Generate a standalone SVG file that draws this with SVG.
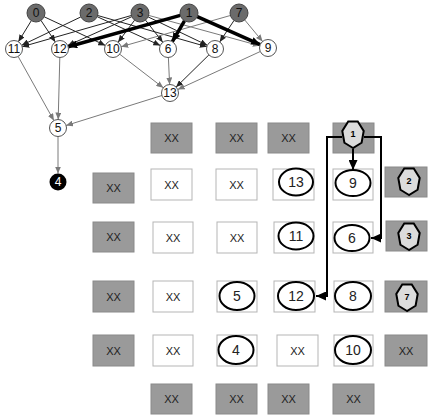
<svg xmlns="http://www.w3.org/2000/svg" width="428" height="415" viewBox="0 0 428 415">
<style>
text{font-family:"Liberation Sans",Arial,sans-serif;text-anchor:middle;dominant-baseline:central}
.top circle{fill:#6b6b6b;stroke:#444;stroke-width:1}
.wn circle{fill:#fff;stroke:#555;stroke-width:1}
.top text,.wn text{font-size:12px;fill:#111}
.e{fill:none;stroke:#222;stroke-width:1;marker-end:url(#ah)}
.eg{fill:none;stroke:#7a7a7a;stroke-width:1;marker-end:url(#ahg)}
.et{fill:none;stroke:#000;stroke-width:3.5;marker-end:url(#aht)}
.gb{fill:#9a9a9a;stroke:#8a8a8a;stroke-width:1}
.wb{fill:#fff;stroke:#b5b5b5;stroke-width:1}
.xx{font-size:11px;fill:#222}
.el{fill:#fff;stroke:#000;stroke-width:2}
.en{font-size:14px;fill:#222}
.hp{fill:#dcdcdc;stroke:#000;stroke-width:2}
.hn{font-size:9px;font-weight:bold;fill:#000}
.ga{fill:none;stroke:#000;stroke-width:2;marker-end:url(#ga)}
</style>
<defs>
<marker id="ah" markerUnits="userSpaceOnUse" markerWidth="7" markerHeight="6" refX="7" refY="3" orient="auto"><path d="M0,0L7,3L0,6z" fill="#222"/></marker>
<marker id="ahg" markerUnits="userSpaceOnUse" markerWidth="7" markerHeight="6" refX="7" refY="3" orient="auto"><path d="M0,0L7,3L0,6z" fill="#7a7a7a"/></marker>
<marker id="aht" markerUnits="userSpaceOnUse" markerWidth="9" markerHeight="8" refX="9" refY="4" orient="auto"><path d="M0,0L9,4L0,8z" fill="#000"/></marker>
<marker id="ga" markerUnits="userSpaceOnUse" markerWidth="10" markerHeight="9" refX="10" refY="4.5" orient="auto"><path d="M0,0L10,4.5L0,9z" fill="#000"/></marker>
<polygon id="hep" points="0,14 -8.6,8.73 -10.72,-3.12 -4.77,-12.61 4.77,-12.61 10.72,-3.12 8.6,8.73"/>
</defs>

<g id="edges">
<line class="e" x1="31.3" y1="20.7" x2="18.4" y2="41.7"/>
<line class="e" x1="41" y1="20.5" x2="55.3" y2="41.9"/>
<line class="e" x1="44.2" y1="16.8" x2="105.3" y2="45.4"/>
<line class="e" x1="80.9" y1="16.9" x2="21.7" y2="45.3"/>
<line class="e" x1="97.2" y1="16.7" x2="160.3" y2="45.5"/>
<line class="e" x1="97.7" y1="15.5" x2="206.8" y2="46.7"/>
<line class="e" x1="131.3" y1="15.5" x2="22.2" y2="46.7"/>
<line class="e" x1="131.8" y1="16.7" x2="67.8" y2="45.5"/>
<line class="e" x1="134.6" y1="20.2" x2="118.1" y2="42.2"/>
<line class="e" x1="145.5" y1="20.1" x2="162.8" y2="42.3"/>
<line class="e" x1="148.1" y1="16.9" x2="207.3" y2="45.3"/>
<line class="eg" x1="148.7" y1="15.4" x2="259.8" y2="45.8"/>
<line class="eg" x1="230.3" y1="15.5" x2="121.2" y2="46.7"/>
<line class="e" x1="234" y1="20.5" x2="219.7" y2="41.9"/>
<line class="eg" x1="244.7" y1="19.9" x2="262.6" y2="41.5"/>
<line class="et" x1="180.3" y1="15.4" x2="68.2" y2="46.7"/>
<line class="et" x1="184.5" y1="20.8" x2="172.3" y2="41.7"/>
<line class="et" x1="197.2" y1="16.6" x2="260.2" y2="44.6"/>
<line class="eg" x1="18.1" y1="56.4" x2="53.9" y2="120.6"/>
<line class="eg" x1="59.8" y1="57.5" x2="58.2" y2="119.5"/>
<line class="eg" x1="119.7" y1="54.2" x2="163.3" y2="87.8"/>
<line class="eg" x1="168.4" y1="57.5" x2="169.6" y2="84.5"/>
<line class="e" x1="208.9" y1="54.9" x2="176.1" y2="87.1"/>
<line class="eg" x1="260.3" y1="51.5" x2="177.7" y2="89.5"/>
<line class="eg" x1="161.9" y1="95.5" x2="66.1" y2="125.5"/>
<line class="eg" x1="58" y1="136.5" x2="58" y2="173.5"/>
</g>

<g id="n0" class="top"><circle cx="36" cy="13" r="9"/><text x="36" y="13">0</text></g>
<g id="n2" class="top"><circle cx="89" cy="13" r="9"/><text x="89" y="13">2</text></g>
<g id="n3" class="top"><circle cx="140" cy="13" r="9"/><text x="140" y="13">3</text></g>
<g id="n1" class="top"><circle cx="189" cy="13" r="9"/><text x="189" y="13">1</text></g>
<g id="n7" class="top"><circle cx="239" cy="13" r="9"/><text x="239" y="13">7</text></g>
<g id="n11" class="wn"><circle cx="14" cy="49" r="8.5"/><text x="14" y="49">11</text></g>
<g id="n12" class="wn"><circle cx="60" cy="49" r="8.5"/><text x="60" y="49">12</text></g>
<g id="n10" class="wn"><circle cx="113" cy="49" r="8.5"/><text x="113" y="49">10</text></g>
<g id="n6" class="wn"><circle cx="168" cy="49" r="8.5"/><text x="168" y="49">6</text></g>
<g id="n8" class="wn"><circle cx="215" cy="49" r="8.5"/><text x="215" y="49">8</text></g>
<g id="n9" class="wn"><circle cx="268" cy="48" r="8.5"/><text x="268" y="48">9</text></g>
<g id="n13" class="wn"><circle cx="170" cy="93" r="8.5"/><text x="170" y="93">13</text></g>
<g id="n5" class="wn"><circle cx="58" cy="128" r="8.5"/><text x="58" y="128">5</text></g>
<g id="n4"><circle cx="58" cy="182" r="8.5" fill="#000"/><text x="58" y="182" font-size="12" fill="#fff">4</text></g>

<g id="grid-gray">
<rect class="gb" x="151" y="123" width="41" height="30"/><text class="xx" x="171.5" y="138">XX</text>
<rect class="gb" x="216" y="123" width="41" height="30"/><text class="xx" x="236.5" y="138">XX</text>
<rect class="gb" x="268" y="123" width="41" height="30"/><text class="xx" x="288.5" y="138">XX</text>
<rect class="gb" x="333" y="123" width="41" height="30"/>
<rect class="gb" x="93" y="173" width="41" height="30"/><text class="xx" x="113.5" y="188">XX</text>
<rect class="gb" x="93" y="222" width="41" height="30"/><text class="xx" x="113.5" y="237">XX</text>
<rect class="gb" x="93" y="281" width="41" height="31"/><text class="xx" x="113.5" y="296.5">XX</text>
<rect class="gb" x="93" y="335" width="41" height="31"/><text class="xx" x="113.5" y="350.5">XX</text>
<rect class="gb" x="385" y="167" width="42" height="30"/>
<rect class="gb" x="386" y="221" width="41" height="30"/>
<rect class="gb" x="385" y="281" width="42" height="31"/>
<rect class="gb" x="385" y="335" width="42" height="31"/><text class="xx" x="406" y="350.5">XX</text>
<rect class="gb" x="151" y="384" width="41" height="30"/><text class="xx" x="171.5" y="399">XX</text>
<rect class="gb" x="216" y="384" width="41" height="30"/><text class="xx" x="236.5" y="399">XX</text>
<rect class="gb" x="268" y="384" width="41" height="30"/><text class="xx" x="288.5" y="399">XX</text>
<rect class="gb" x="333" y="384" width="41" height="30"/><text class="xx" x="353.5" y="399">XX</text>
</g>

<g id="grid-white">
<rect class="wb" x="151" y="169" width="41" height="31"/><text class="xx" x="171.5" y="184.5">XX</text>
<rect class="wb" x="216" y="169" width="41" height="31"/><text class="xx" x="236.5" y="184.5">XX</text>
<rect class="wb" x="273" y="169" width="41" height="31"/>
<rect class="wb" x="333" y="169" width="40" height="31"/>
<rect class="wb" x="153" y="222" width="40" height="31"/><text class="xx" x="173" y="237.5">XX</text>
<rect class="wb" x="217" y="222" width="40" height="31"/><text class="xx" x="237" y="237.5">XX</text>
<rect class="wb" x="274" y="222" width="40" height="31"/>
<rect class="wb" x="333" y="222" width="40" height="31"/>
<rect class="wb" x="153" y="281" width="40" height="31"/><text class="xx" x="173" y="296.5">XX</text>
<rect class="wb" x="217" y="281" width="40" height="31"/>
<rect class="wb" x="274" y="281" width="41" height="31"/>
<rect class="wb" x="334" y="281" width="39" height="31"/>
<rect class="wb" x="153" y="335" width="40" height="31"/><text class="xx" x="173" y="350.5">XX</text>
<rect class="wb" x="217" y="335" width="40" height="31"/>
<rect class="wb" x="277" y="335" width="41" height="31"/><text class="xx" x="297.5" y="350.5">XX</text>
<rect class="wb" x="334" y="335" width="39" height="31"/>
</g>

<g id="connectors">
<path class="ga" d="M342,137H327V296H316"/>
<path class="ga" d="M364,137H381V238H371"/>
<path class="ga" d="M353,149V170"/>
</g>

<g id="t13"><ellipse class="el" cx="296" cy="182" rx="17" ry="13.5"/><text class="en" x="296" y="182">13</text></g>
<g id="t9"><ellipse class="el" cx="353" cy="183" rx="17.5" ry="13"/><text class="en" x="353" y="183">9</text></g>
<g id="t11"><ellipse class="el" cx="296" cy="236" rx="17.5" ry="13.5"/><text class="en" x="296" y="236">11</text></g>
<g id="t6"><ellipse class="el" cx="352" cy="238" rx="17.5" ry="13"/><text class="en" x="352" y="238">6</text></g>
<g id="t5"><ellipse class="el" cx="237" cy="296" rx="17.5" ry="14"/><text class="en" x="237" y="296">5</text></g>
<g id="t12"><ellipse class="el" cx="296" cy="296" rx="18" ry="14"/><text class="en" x="296" y="296">12</text></g>
<g id="t8"><ellipse class="el" cx="353" cy="296" rx="18" ry="14"/><text class="en" x="353" y="296">8</text></g>
<g id="t4"><ellipse class="el" cx="236" cy="350" rx="17.5" ry="14"/><text class="en" x="236" y="350">4</text></g>
<g id="t10"><ellipse class="el" cx="353" cy="350" rx="18" ry="14"/><text class="en" x="353" y="350">10</text></g>

<g id="h1"><use href="#hep" class="hp" x="353" y="134"/><text class="hn" x="353" y="134">1</text></g>
<g id="h2"><use href="#hep" class="hp" x="409" y="181"/><text class="hn" x="409" y="181">2</text></g>
<g id="h3"><use href="#hep" class="hp" x="409" y="236"/><text class="hn" x="409" y="236">3</text></g>
<g id="h7"><use href="#hep" class="hp" x="407" y="297"/><text class="hn" x="407" y="297">7</text></g>
</svg>
